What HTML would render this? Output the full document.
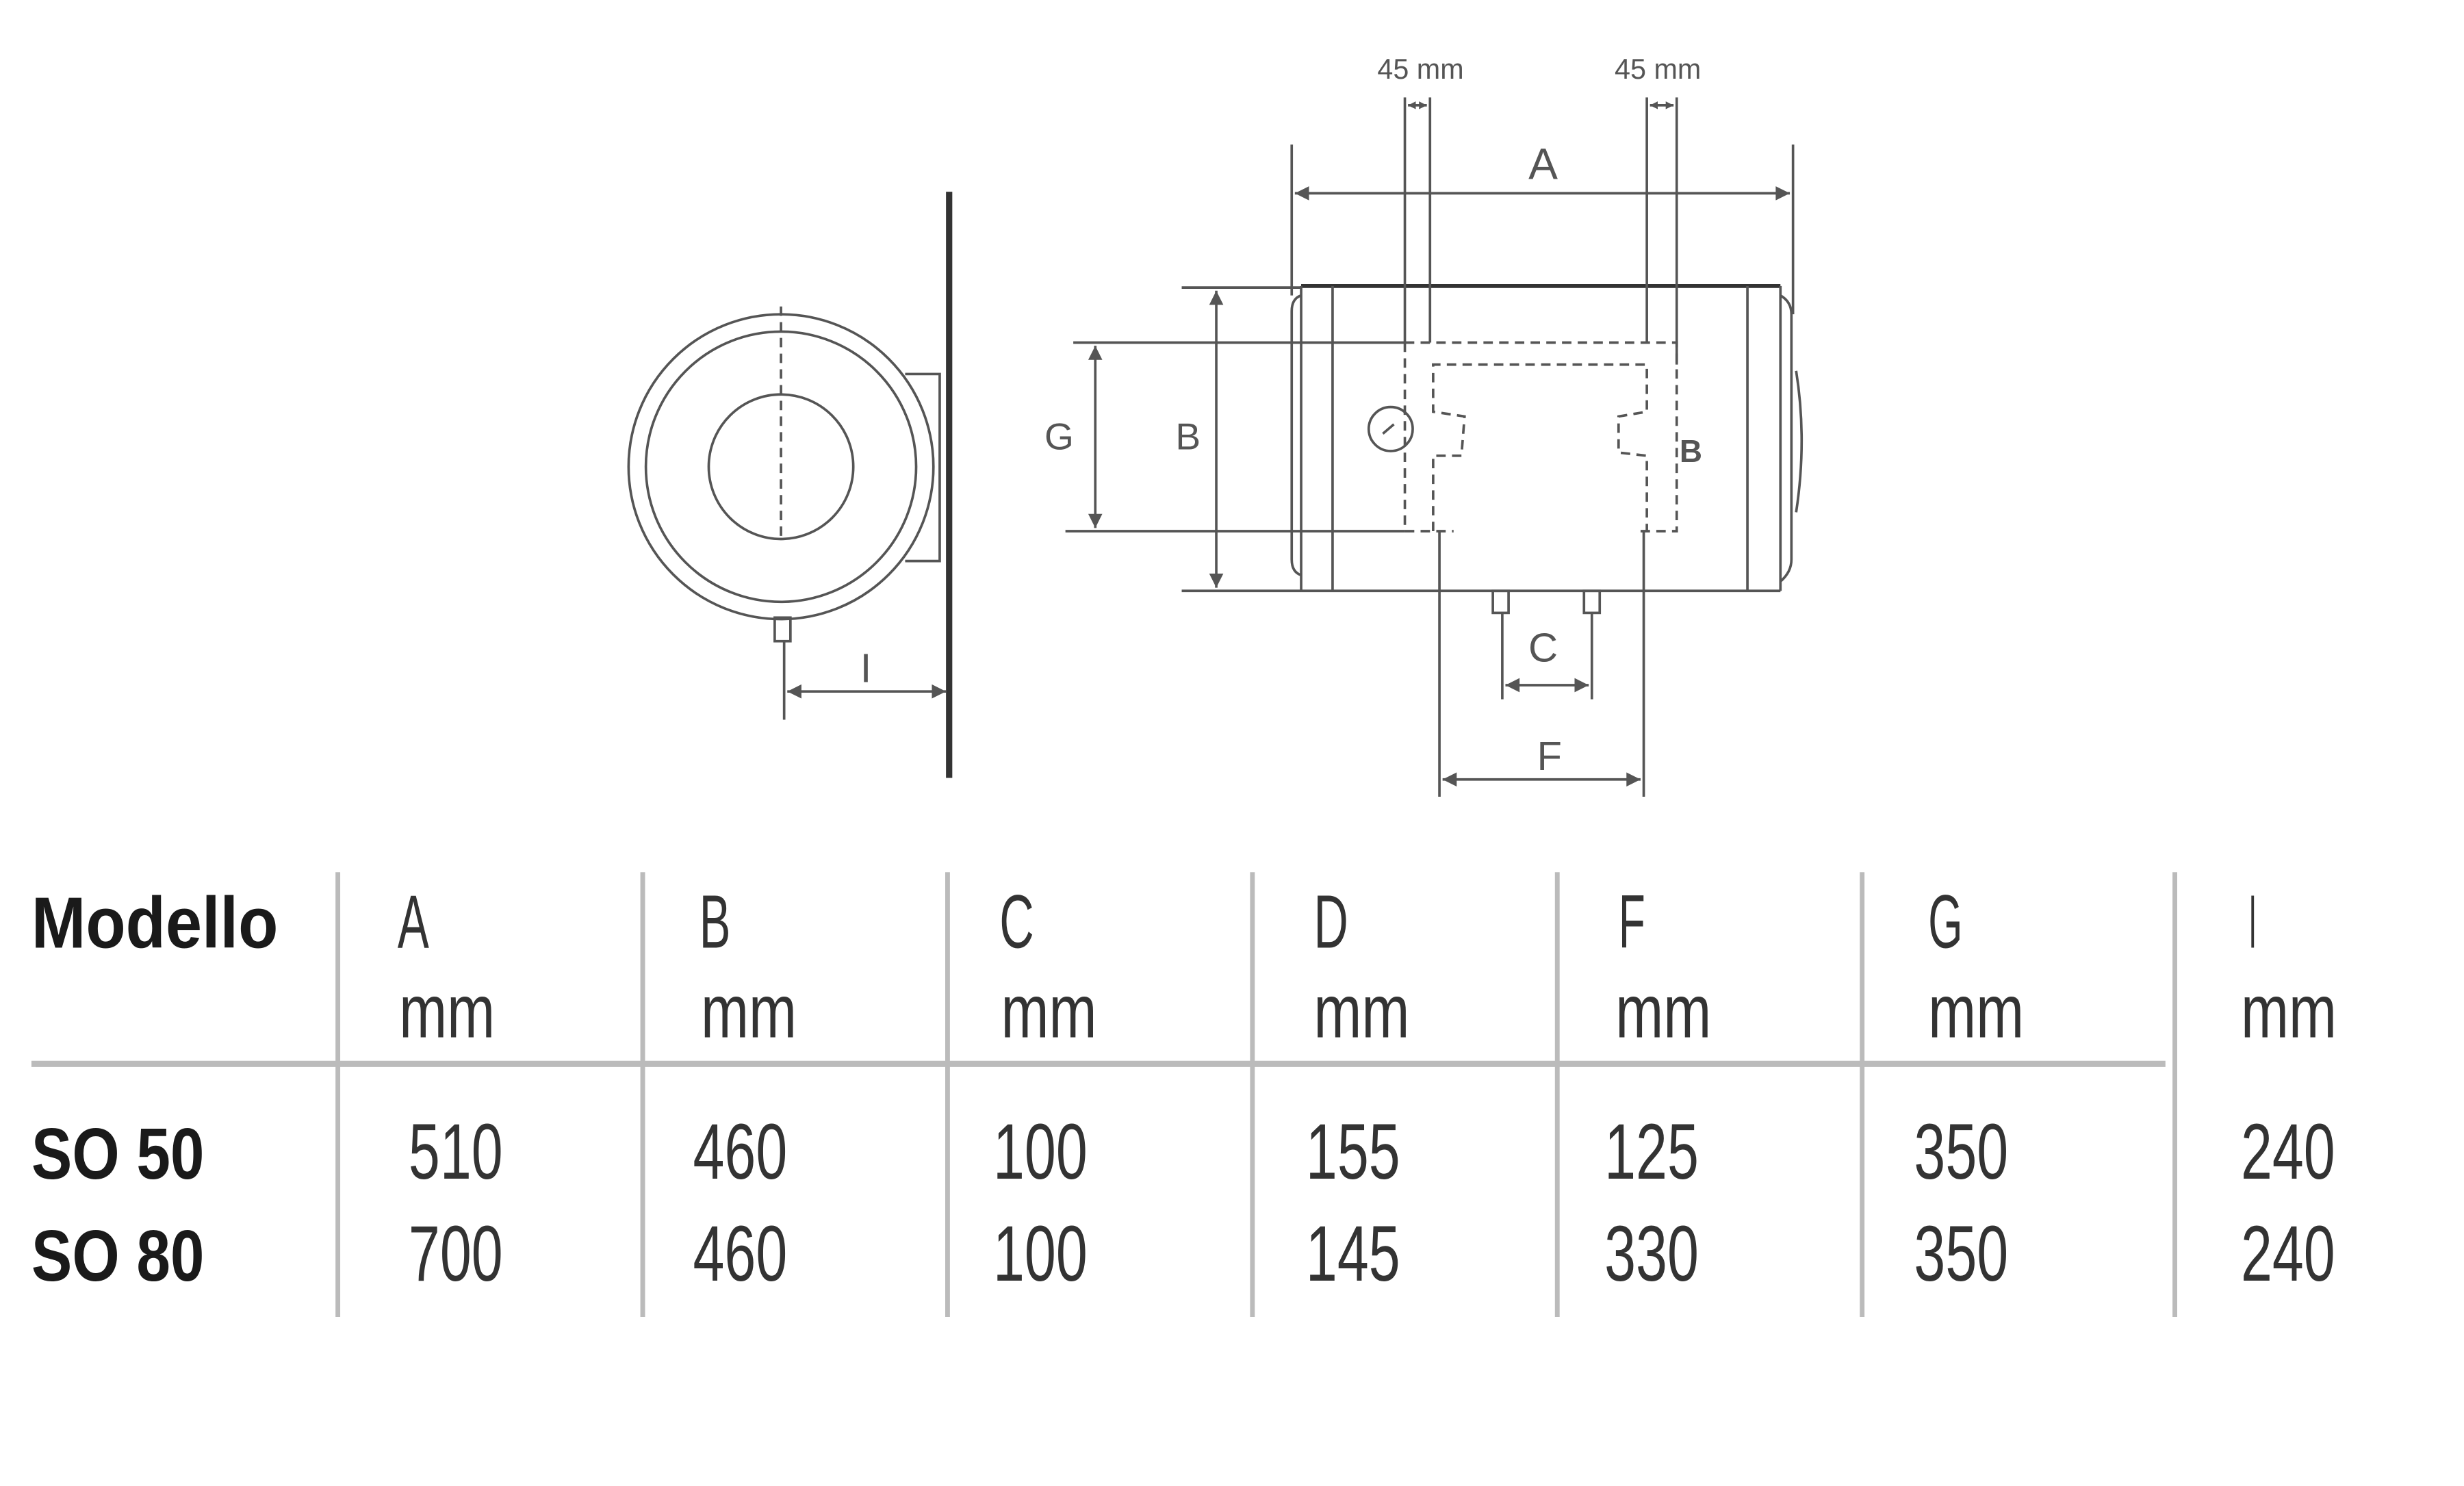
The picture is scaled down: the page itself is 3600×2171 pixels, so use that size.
<!DOCTYPE html>
<html><head><meta charset="utf-8"><style>
html,body{margin:0;padding:0;background:#fff;}
svg{display:block;}
</style></head><body>
<svg width="3600" height="2171" viewBox="0 0 1568 945.6" preserveAspectRatio="none" xmlns="http://www.w3.org/2000/svg">
<defs>
<marker id="ar" viewBox="0 0 10 10" refX="10" refY="5" markerWidth="14" markerHeight="9" orient="auto-start-reverse" markerUnits="userSpaceOnUse"><path d="M0,0 L10,5 L0,10 z" fill="#555"/></marker>
<marker id="as" viewBox="0 0 10 10" refX="10" refY="5" markerWidth="5" markerHeight="5" orient="auto-start-reverse" markerUnits="userSpaceOnUse"><path d="M0,0 L10,5 L0,10 z" fill="#555"/></marker>
</defs>
<g fill="none" stroke="#555" stroke-width="1.6">
<!-- left view -->
<circle cx="497" cy="297" r="97"/>
<circle cx="497" cy="297" r="86"/>
<circle cx="497" cy="297" r="46"/>
<line x1="497" y1="195" x2="497" y2="345" stroke-dasharray="6,4"/>
<polyline points="576,238 598,238 598,357 576,357"/>
<line x1="604" y1="122" x2="604" y2="495" stroke="#333" stroke-width="4"/>
<rect x="493" y="393" width="10" height="15"/>
<line x1="499" y1="408" x2="499" y2="458"/>
<line x1="501" y1="440" x2="602" y2="440" marker-start="url(#ar)" marker-end="url(#ar)"/>
<!-- tank -->
<line x1="828" y1="182" x2="1133" y2="182" stroke="#333" stroke-width="2.5"/>
<line x1="828" y1="376" x2="1133" y2="376"/>
<line x1="828" y1="182" x2="828" y2="376"/>
<line x1="848" y1="182" x2="848" y2="376"/>
<line x1="1112" y1="182" x2="1112" y2="376"/>
<line x1="1133" y1="182" x2="1133" y2="376"/>
<path d="M828,188 Q822,190 822,198 L822,356 Q822,364 828,366"/>
<path d="M1133,188 Q1140,192 1140,200 L1140,356 Q1140,364 1133,370"/>
<path d="M1143,236 Q1150,280 1143,326"/>
<line x1="752" y1="183" x2="828" y2="183"/>
<line x1="752" y1="376" x2="828" y2="376"/>
<line x1="683" y1="218" x2="894" y2="218"/>
<line x1="678" y1="338" x2="894" y2="338"/>
<!-- pipes -->
<line x1="894" y1="62" x2="894" y2="218"/>
<line x1="910" y1="62" x2="910" y2="218"/>
<line x1="1048" y1="62" x2="1048" y2="218"/>
<line x1="1067" y1="62" x2="1067" y2="232"/>
<line x1="896" y1="67" x2="908" y2="67" marker-start="url(#as)" marker-end="url(#as)"/>
<line x1="1050" y1="67" x2="1065" y2="67" marker-start="url(#as)" marker-end="url(#as)"/>
<!-- dashed -->
<g stroke-dasharray="6,4">
<polyline points="894,218 1067,218 1067,338 1040,338"/>
<line x1="894" y1="218" x2="894" y2="338"/>
<line x1="894" y1="338" x2="925" y2="338"/>
<polyline points="912,338 912,290 930,290 932,265 912,262 912,232 1048,232 1048,262 1030,265 1030,288 1048,290 1048,338"/>
</g>
<circle cx="885" cy="273" r="14"/>
<path d="M880,276 L887,270"/>
<!-- A -->
<line x1="822" y1="92" x2="822" y2="188"/>
<line x1="1141" y1="92" x2="1141" y2="200"/>
<line x1="824" y1="123" x2="1139" y2="123" marker-start="url(#ar)" marker-end="url(#ar)"/>
<!-- G B -->
<line x1="697" y1="220" x2="697" y2="336" marker-start="url(#ar)" marker-end="url(#ar)"/>
<line x1="774" y1="185" x2="774" y2="374" marker-start="url(#ar)" marker-end="url(#ar)"/>
<!-- legs C F -->
<rect x="950" y="376" width="10" height="14"/>
<rect x="1008" y="376" width="10" height="14"/>
<line x1="956" y1="390" x2="956" y2="445"/>
<line x1="1013" y1="390" x2="1013" y2="445"/>
<line x1="958" y1="436" x2="1011" y2="436" marker-start="url(#ar)" marker-end="url(#ar)"/>
<line x1="916" y1="338" x2="916" y2="507"/>
<line x1="1046" y1="338" x2="1046" y2="507"/>
<line x1="918" y1="496" x2="1044" y2="496" marker-start="url(#ar)" marker-end="url(#ar)"/>
</g>
<g font-family="Liberation Sans, sans-serif" fill="#555" text-anchor="middle">
<text x="904" y="50" font-size="18">45 mm</text>
<text x="1055" y="50" font-size="18">45 mm</text>
<text x="982" y="114" font-size="28">A</text>
<text x="674" y="286" font-size="24">G</text>
<text x="756" y="286" font-size="24">B</text>
<text x="982" y="421" font-size="26">C</text>
<text x="986" y="490" font-size="26">F</text>
<text x="551" y="434" font-size="26">I</text>
<text x="1076" y="294" font-size="20" font-weight="bold">B</text>
</g>
<!-- table -->
<g stroke="#bbb" stroke-width="3">
<line x1="215" y1="555" x2="215" y2="838"/>
<line x1="409" y1="555" x2="409" y2="838"/>
<line x1="603" y1="555" x2="603" y2="838"/>
<line x1="797" y1="555" x2="797" y2="838"/>
<line x1="991" y1="555" x2="991" y2="838"/>
<line x1="1185" y1="555" x2="1185" y2="838"/>
<line x1="1384" y1="555" x2="1384" y2="838"/>
<line x1="20" y1="677" x2="1378" y2="677" stroke-width="4"/>
</g>
<g font-family="Liberation Sans, sans-serif" fill="#1a1a1a" font-size="46" font-weight="bold">
<text x="20" y="603" textLength="157" lengthAdjust="spacingAndGlyphs">Modello</text>
<text x="20" y="750" textLength="110" lengthAdjust="spacingAndGlyphs">SO 50</text>
<text x="20" y="815" textLength="110" lengthAdjust="spacingAndGlyphs">SO 80</text>
</g>
<g font-family="Liberation Sans, sans-serif" fill="#333" font-size="48" font-weight="normal">
<text x="253" y="603" textLength="20" lengthAdjust="spacingAndGlyphs">A</text>
<text x="445" y="603" textLength="20" lengthAdjust="spacingAndGlyphs">B</text>
<text x="636" y="603" textLength="22" lengthAdjust="spacingAndGlyphs">C</text>
<text x="836" y="603" textLength="22" lengthAdjust="spacingAndGlyphs">D</text>
<text x="1030" y="603" textLength="17" lengthAdjust="spacingAndGlyphs">F</text>
<text x="1227" y="603" textLength="22" lengthAdjust="spacingAndGlyphs">G</text>
<text x="1431" y="603" textLength="5" lengthAdjust="spacingAndGlyphs">I</text>
<text x="254" y="660" textLength="61" lengthAdjust="spacingAndGlyphs">mm</text>
<text x="446" y="660" textLength="61" lengthAdjust="spacingAndGlyphs">mm</text>
<text x="637" y="660" textLength="61" lengthAdjust="spacingAndGlyphs">mm</text>
<text x="836" y="660" textLength="61" lengthAdjust="spacingAndGlyphs">mm</text>
<text x="1028" y="660" textLength="61" lengthAdjust="spacingAndGlyphs">mm</text>
<text x="1227" y="660" textLength="61" lengthAdjust="spacingAndGlyphs">mm</text>
<text x="1426" y="660" textLength="61" lengthAdjust="spacingAndGlyphs">mm</text>
<g font-size="50">
<text x="260" y="750" textLength="60" lengthAdjust="spacingAndGlyphs">510</text>
<text x="441" y="750" textLength="60" lengthAdjust="spacingAndGlyphs">460</text>
<text x="632" y="750" textLength="60" lengthAdjust="spacingAndGlyphs">100</text>
<text x="831" y="750" textLength="60" lengthAdjust="spacingAndGlyphs">155</text>
<text x="1021" y="750" textLength="60" lengthAdjust="spacingAndGlyphs">125</text>
<text x="1218" y="750" textLength="60" lengthAdjust="spacingAndGlyphs">350</text>
<text x="1426" y="750" textLength="60" lengthAdjust="spacingAndGlyphs">240</text>
<text x="260" y="815" textLength="60" lengthAdjust="spacingAndGlyphs">700</text>
<text x="441" y="815" textLength="60" lengthAdjust="spacingAndGlyphs">460</text>
<text x="632" y="815" textLength="60" lengthAdjust="spacingAndGlyphs">100</text>
<text x="831" y="815" textLength="60" lengthAdjust="spacingAndGlyphs">145</text>
<text x="1021" y="815" textLength="60" lengthAdjust="spacingAndGlyphs">330</text>
<text x="1218" y="815" textLength="60" lengthAdjust="spacingAndGlyphs">350</text>
<text x="1426" y="815" textLength="60" lengthAdjust="spacingAndGlyphs">240</text>
</g>
</g>
</svg>
</body></html>
